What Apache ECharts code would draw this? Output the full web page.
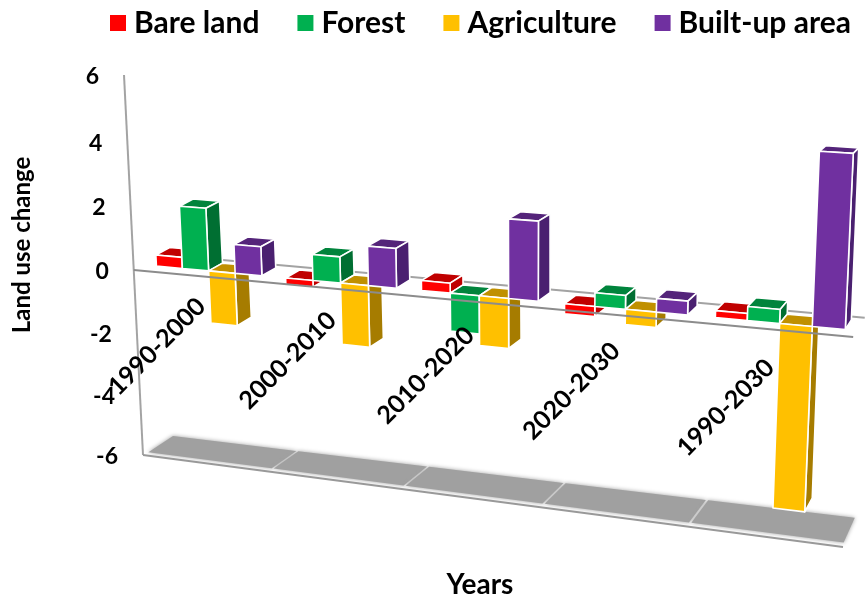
<!DOCTYPE html>
<html>
<head>
<meta charset="utf-8">
<style>html,body{margin:0;padding:0;background:#fff}#chart{width:866px;height:599px}</style>
<script src="https://cdn.jsdelivr.net/npm/echarts@6/dist/echarts.min.js"></script>
</head>
<body>
<div id="chart"></div>
<script>
// Land use change per period, by class
const periods = ['1990-2000', '2000-2010', '2010-2020', '2020-2030', '1990-2030'];
const bareLand = [0.35, -0.2, 0.3, -0.3, 0.2];
const forest = [1.95, 0.8, -1.15, 0.4, 0.4];
const agriculture = [-1.65, -1.9, -1.5, -0.45, -5.4];
const builtUp = [0.9, 1.2, 2.35, 0.4, 4.85];
const valueTicks = [6, 4, 2, 0, -2, -4, -6];

const seriesNames = ['Bare land', 'Forest', 'Agriculture', 'Built-up area'];
const seriesValues = [bareLand, forest, agriculture, builtUp];
const frontColors = ['#FF0000', '#00B050', '#FFC000', '#7030A0'];
const topColors = ['#C00000', '#00843C', '#C09000', '#54247A'];
const sideColors = ['#BF0000', '#006F32', '#A67C00', '#4A2070'];

const FONT = 'Lato, "Open Sans", sans-serif';
const GRID = {left: 124, top: 75, width: 712, height: 340};

// Perspective frame: where the plot rectangle lands on the front and back walls
const FRONT_WALL = {tl: [124, 75], tr: [864, 114], br: [843, 547], bl: [143, 455]};
const BACK_WALL = {tl: [150, 63], tr: [874, 105], br: [856, 518], bl: [172, 436]};
const BAR_DEPTH = [0.33, 0.83];
const FLOOR_DEPTH = [0.15, 1];
const GROUP_GAP = 0.09;
const GROUP_SHIFT = 0.018;

// Unit square to quadrilateral homography
function quadMap(q) {
  const [x0, y0] = q.tl, [x1, y1] = q.tr, [x2, y2] = q.br, [x3, y3] = q.bl;
  const dx1 = x1 - x2, dx2 = x3 - x2, sx = x0 - x1 + x2 - x3;
  const dy1 = y1 - y2, dy2 = y3 - y2, sy = y0 - y1 + y2 - y3;
  const det = dx1 * dy2 - dx2 * dy1;
  const g = (sx * dy2 - dx2 * sy) / det;
  const h = (dx1 * sy - sx * dy1) / det;
  const a = x1 - x0 + g * x1, b = x3 - x0 + h * x3;
  const d = y1 - y0 + g * y1, e = y3 - y0 + h * y3;
  return (u, v) => {
    const w = g * u + h * v + 1;
    return [(a * u + b * v + x0) / w, (d * u + e * v + y0) / w];
  };
}
const frontMap = quadMap(FRONT_WALL);
const backMap = quadMap(BACK_WALL);

// Grid pixel plus depth (0 front wall, 1 back wall) to screen position
function project(px, py, depth) {
  const u = (px - GRID.left) / GRID.width;
  const v = (py - GRID.top) / GRID.height;
  const f = frontMap(u, v), b = backMap(u, v);
  return [f[0] + (b[0] - f[0]) * depth, f[1] + (b[1] - f[1]) * depth];
}

function face(points, fill) {
  return {
    type: 'polygon',
    shape: {points},
    style: {fill, stroke: '#fff', lineWidth: 1.6, lineJoin: 'round'}
  };
}

function barRenderer(index) {
  const barShare = (1 - 2 * GROUP_GAP) / seriesNames.length;
  return function (params, api) {
    const cat = api.value(0), val = api.value(1);
    const band = api.size([1, 0])[0];
    const center = api.coord([cat, 0])[0];
    const x0 = center + band * (-0.5 + GROUP_GAP + GROUP_SHIFT + index * barShare);
    const x1 = x0 + band * barShare;
    const yZero = api.coord([cat, 0])[1];
    const yVal = api.coord([cat, val])[1];
    const yTop = Math.min(yZero, yVal), yBottom = Math.max(yZero, yVal);
    const [dn, df] = BAR_DEPTH;
    const P = project;
    return {
      type: 'group',
      children: [
        face([P(x0, yTop, dn), P(x1, yTop, dn), P(x1, yTop, df), P(x0, yTop, df)], topColors[index]),
        face([P(x1, yTop, dn), P(x1, yTop, df), P(x1, yBottom, df), P(x1, yBottom, dn)], sideColors[index]),
        face([P(x0, yTop, dn), P(x1, yTop, dn), P(x1, yBottom, dn), P(x0, yBottom, dn)], frontColors[index])
      ]
    };
  };
}

function wallLine(a, b, color) {
  return {type: 'line', shape: {x1: a[0], y1: a[1], x2: b[0], y2: b[1]},
    style: {stroke: color, lineWidth: 2}};
}

// Floor slabs, axis lines and the back zero line, behind the bars
function renderBackdrop(params, api) {
  const cs = params.coordSys;
  const yMin = api.coord([0, -6])[1], yMax = api.coord([0, 6])[1], yZero = api.coord([0, 0])[1];
  const xL = cs.x, xR = cs.x + cs.width, band = cs.width / periods.length;
  const kids = [];
  periods.forEach((p, i) => {
    const a = xL + band * (i + 0.008), b = xL + band * (i + 0.992);
    kids.push({
      type: 'polygon',
      shape: {points: [project(a, yMin, FLOOR_DEPTH[0]), project(b, yMin, FLOOR_DEPTH[0]),
        project(b, yMin, FLOOR_DEPTH[1]), project(a, yMin, FLOOR_DEPTH[1])]},
      style: {fill: '#A0A0A0', shadowBlur: 4, shadowColor: '#A0A0A0'}
    });
  });
  kids.push(wallLine(project(xL, yMax, 0), project(xL, yMin, 0), '#A3A3A3'));
  kids.push(wallLine(project(xL, yMin, 0), project(xR, yMin, 0), '#999999'));
  kids.push(wallLine(project(xL, yZero, 1), project(xR, yZero, 1), '#A3A3A3'));
  return {type: 'group', children: kids};
}

// Front zero line and the tick labels, above the bars
function renderForeground(params, api) {
  const cs = params.coordSys;
  const xL = cs.x, xR = cs.x + cs.width, yZero = api.coord([0, 0])[1];
  const kids = [wallLine(project(xL, yZero, 0), project(xR, yZero, 0), '#8C8C8C')];
  valueTicks.forEach(t => {
    const p = project(xL, api.coord([0, t])[1], 0);
    kids.push({
      type: 'text',
      style: {text: String(t), x: p[0] - 25, y: p[1] + 2, align: 'right', verticalAlign: 'middle',
        font: 'bold 23px ' + FONT, fill: '#000'}
    });
  });
  periods.forEach((p, i) => {
    const c = api.coord([i, -2.2]);
    const at = project(c[0], c[1], 0);
    kids.push({
      type: 'text',
      x: at[0] - 43, y: at[1] + 1,
      rotation: 45 * Math.PI / 180,
      style: {text: p, x: 0, y: 0, align: 'center', verticalAlign: 'middle',
        font: 'bold 25px ' + FONT, fill: '#000'}
    });
  });
  return {type: 'group', children: kids};
}

const barSeries = seriesNames.map((name, i) => ({
  name,
  type: 'custom',
  coordinateSystem: 'cartesian2d',
  clip: false,
  z: 3,
  itemStyle: {color: frontColors[i]},
  data: seriesValues[i].map((v, c) => [c, v]),
  encode: {x: 0, y: 1},
  renderItem: barRenderer(i)
}));

const chart = echarts.init(document.getElementById('chart'), null, {renderer: 'canvas'});
chart.setOption({
  animation: false,
  backgroundColor: '#fff',
  grid: {left: GRID.left, top: GRID.top, width: GRID.width, height: GRID.height, outerBoundsMode: 'none'},
  legend: {
    data: seriesNames,
    left: 110, top: 8, width: 756, padding: 0,
    icon: 'rect',
    itemWidth: 16, itemHeight: 16, itemGap: 38,
    textStyle: {fontFamily: FONT, fontWeight: 'bold', fontSize: 30, color: '#000', padding: [0, 0, 0, 3]}
  },
  xAxis: {
    type: 'category', data: periods,
    name: 'Years', nameLocation: 'middle', nameGap: 156,
    nameTextStyle: {fontFamily: FONT, fontWeight: 'bold', fontSize: 28, color: '#000'},
    axisLine: {show: false}, axisTick: {show: false}, axisLabel: {show: false}, splitLine: {show: false}
  },
  yAxis: {
    type: 'value', min: -6, max: 6, interval: 2,
    name: 'Land use change', nameLocation: 'middle', nameGap: 90, nameRotate: 90,
    nameTextStyle: {fontFamily: FONT, fontWeight: 'bold', fontSize: 24, color: '#000'},
    axisLine: {show: false}, axisTick: {show: false}, axisLabel: {show: false}, splitLine: {show: false}
  },
  series: [
    {type: 'custom', z: 1, clip: false, silent: true, data: [[0, 0]], renderItem: renderBackdrop},
    ...barSeries,
    {type: 'custom', z: 5, clip: false, silent: true, data: [[0, 0]], renderItem: renderForeground}
  ]
});
</script>
</body>
</html>
